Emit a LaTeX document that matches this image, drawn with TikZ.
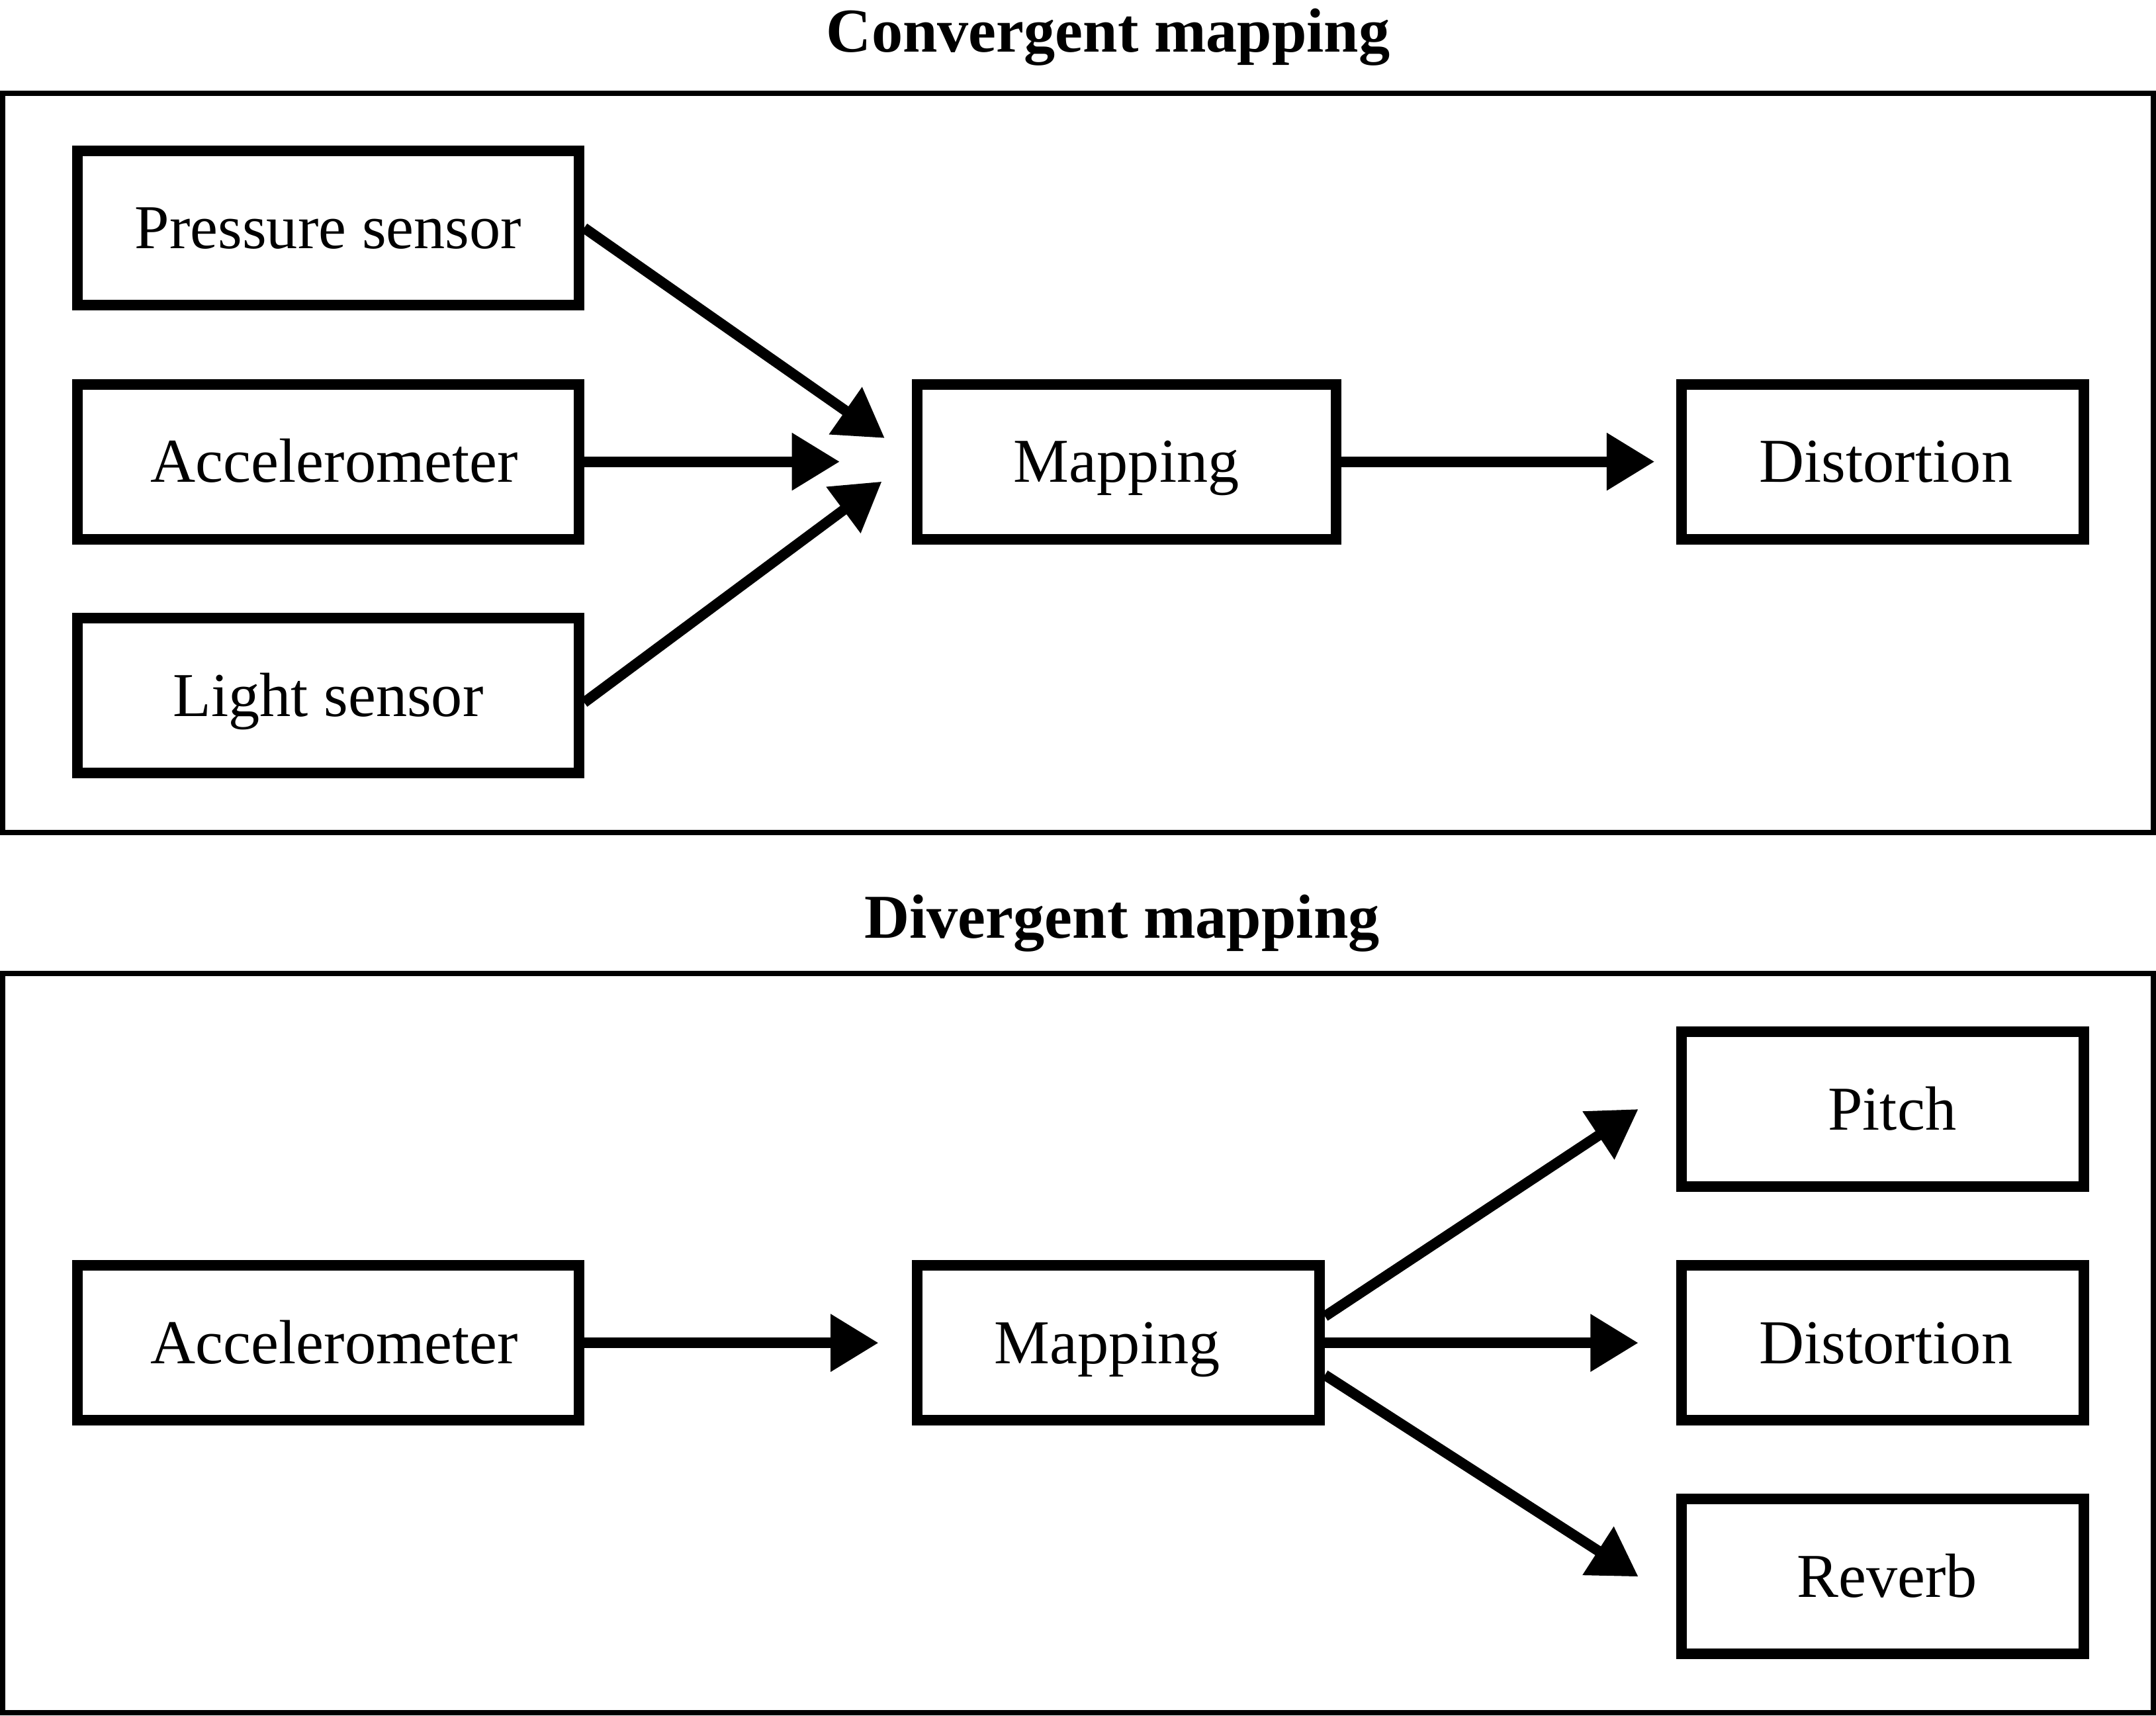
\documentclass[tikz,border=0pt]{standalone}
\usepackage{fontspec}
\setmainfont{Liberation Serif}
\usetikzlibrary{arrows.meta}
\begin{document}
\begin{tikzpicture}[x=0.5pt,y=-0.5pt,
  every node/.style={font=\fontsize{22.7pt}{27pt}\selectfont, inner sep=0pt, text height=15pt, text depth=0pt},
  box/.style={draw, line width=3.85pt, minimum height=56.25pt},
  lbox/.style={box, minimum width=182.3pt},
  rbox/.style={box, minimum width=146.35pt},
  frame/.style={draw, line width=1.85pt},
  title/.style={font=\fontsize{22.7pt}{27pt}\selectfont\bfseries, text height=15.35pt},
  conn/.style={line width=3.8pt, -{Triangle[length=17.4pt,width=20pt]}}
]
\useasboundingbox (0,0) rectangle (1568,1247.5);
% titles
\node[title] (title1) at (806,22.6) {Convergent mapping};
\node[title] (title2) at (816,667) {Divergent mapping};
% frames
\draw[frame] (1.85,67.9) rectangle (1566,605.3);
\draw[frame] (1.85,707.8) rectangle (1566,1245.6);
% convergent
\node[lbox] (press) at (238.7,165.75) {Pressure sensor};
\node[lbox] (acc1) at (238.7,335.75) {\hspace*{4.5pt}Accelerometer};
\node[lbox] (light) at (238.7,505.9) {Light sensor};
\node[box, minimum width=152.35pt] (map1) at (819.25,335.75) {Mapping};
\node[rbox] (dist1) at (1369.05,335.75) {\hspace*{2.5pt}Distortion};
\coordinate (t1) at (643.4,318.6);
\coordinate (t2) at (610.7,335.75);
\coordinate (t3) at (641.3,350.2);
\coordinate (t4) at (1203.3,335.75);
\draw[conn] (press.east) -- (t1);
\draw[conn] (acc1.east) -- (t2);
\draw[conn] ([yshift=-2.5pt]light.east) -- (t3);
\draw[conn] (map1.east) -- (t4);
% divergent
\node[lbox] (acc2) at (238.7,976.6) {\hspace*{4.5pt}Accelerometer};
\node[box, minimum width=146.4pt] (map2) at (813.3,976.6) {Mapping\hspace*{8pt}};
\node[rbox] (pitch) at (1369.05,806.75) {\hspace*{7pt}Pitch};
\node[rbox] (dist2) at (1369.05,976.6) {\hspace*{2.5pt}Distortion};
\node[rbox] (reverb) at (1369.05,1146.45) {\hspace*{3.5pt}Reverb};
\coordinate (t5) at (638.9,976.6);
\coordinate (t6) at (1191.5,806.6);
\coordinate (t7) at (1191.5,976.6);
\coordinate (t8) at (1191.5,1146.6);
\draw[conn] (acc2.east) -- (t5);
\draw[conn] ([yshift=9.65pt]map2.east) -- (t6);
\draw[conn] (map2.east) -- (t7);
\draw[conn] ([yshift=-11.65pt]map2.east) -- (t8);
\end{tikzpicture}
\end{document}
